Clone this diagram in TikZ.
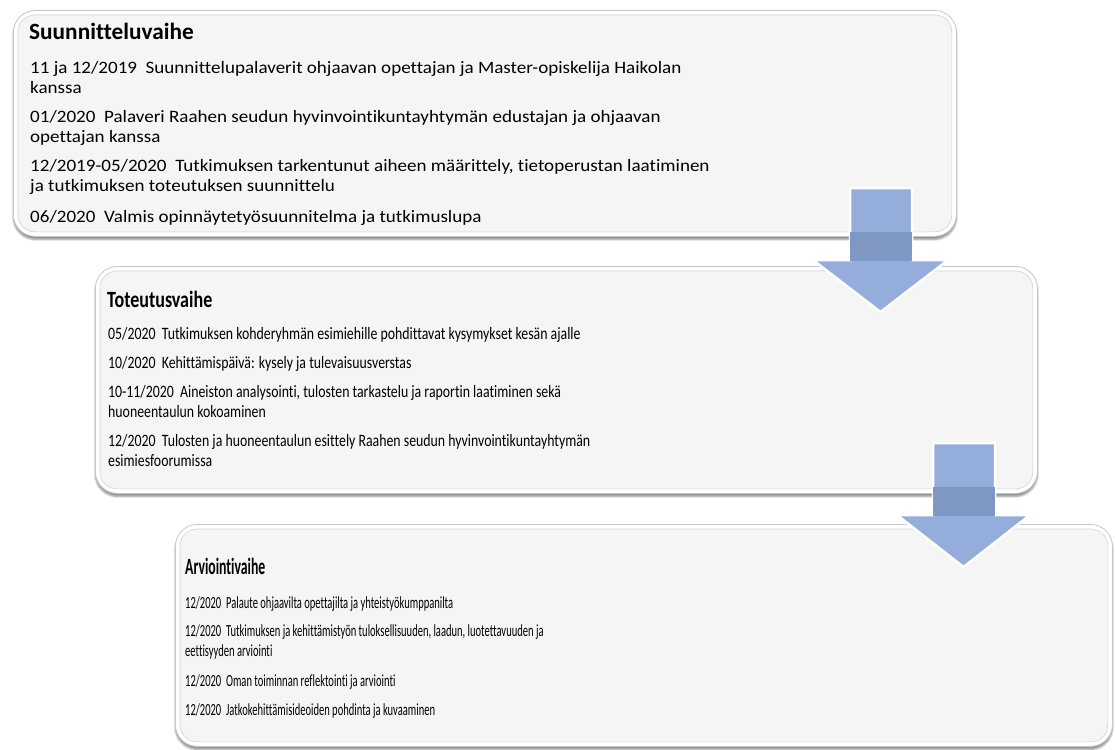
\documentclass[tikz,border=0pt]{standalone}
\usepackage{fontspec}
\setmainfont[Ligatures=NoCommon]{Carlito}
\newfontfamily\bodyA[FakeStretch=1.095, Ligatures=NoCommon]{Carlito}
\newfontfamily\bodyB[FakeStretch=0.795, Ligatures=NoCommon]{Carlito}
\newfontfamily\bodyC[FakeStretch=0.62, Ligatures=NoCommon]{Carlito}
\newfontfamily\headA[FakeStretch=1.0, Ligatures=NoCommon]{Carlito}
\newfontfamily\headB[FakeStretch=0.774, Ligatures=NoCommon]{Carlito}
\newfontfamily\headC[FakeStretch=0.59, Ligatures=NoCommon]{Carlito}
\usetikzlibrary{shadows.blur}
\definecolor{boxfill}{HTML}{F5F5F5}
\definecolor{boxline}{HTML}{C4C8CE}
\definecolor{arrowblue}{HTML}{94ADDA}
\definecolor{arrowdark}{HTML}{7F97C3}
\tikzset{
  outerbox/.style={draw=boxline, line width=0.8pt, fill=white, rounded corners=22pt,
    inner sep=0pt, anchor=north west,
    blur shadow={shadow xshift=0pt, shadow yshift=-3pt, shadow blur steps=6, shadow opacity=45}},
  innerbox/.style={draw=boxline!80, line width=0.6pt, fill=boxfill, rounded corners=17pt},
  titletext/.style={anchor=base west, inner sep=0pt, font=\bfseries\fontsize{23.3}{27}\selectfont},
  bodytext/.style={anchor=base west, inner sep=0pt},
  blockarrow/.style={draw=white, line width=2.5pt, fill=arrowblue, line join=miter},
  arrowband/.style={fill=arrowdark}
}
\begin{document}
\begin{tikzpicture}[x=1pt, y=-1pt]
\useasboundingbox (0,0) rectangle (1115,749);

% boxes
\node[outerbox, minimum width=943pt, minimum height=226pt] (b1) at (13,10) {};
\draw[innerbox] ([shift={(5,5)}]b1.north west) rectangle ([shift={(-5,-5)}]b1.south east);

\node[outerbox, minimum width=942pt, minimum height=227pt] (b2) at (95,266) {};
\draw[innerbox] ([shift={(5,5)}]b2.north west) rectangle ([shift={(-5,-5)}]b2.south east);

\node[outerbox, minimum width=937pt, minimum height=222pt] (b3) at (175,524) {};
\draw[innerbox] ([shift={(5,5)}]b3.north west) rectangle ([shift={(-5,-5)}]b3.south east);

% arrows
\draw[blockarrow] (850,188) -- (912,188) -- (912,260) -- (948,260) -- (880.5,312) -- (813,260) -- (850,260) -- cycle;
\fill[arrowband] (850,232) rectangle (912,261);
\draw[blockarrow] (933,443) -- (995,443) -- (995,515) -- (1030,515) -- (963.5,567) -- (897,515) -- (933,515) -- cycle;
\fill[arrowband] (933,487) rectangle (995,516);

% texts box 1
\node[titletext] (t1) at (29,40) {\headA Suunnitteluvaihe};
\node[bodytext] (x1) at (30,74) {\parbox[t]{800pt}{\bodyA\fontsize{17.4}{19.5}\selectfont
11 ja 12/2019\ \ Suunnittelupalaverit ohjaavan opettajan ja Master-opiskelija Haikolan\\
kanssa\\[10pt]
01/2020\ \ Palaveri Raahen seudun hyvinvointikuntayhtymän edustajan ja ohjaavan\\
opettajan kanssa\\[10pt]
12/2019-05/2020\ \ Tutkimuksen tarkentunut aiheen määrittely, tietoperustan laatiminen\\
ja tutkimuksen toteutuksen suunnittelu\\[11.5pt]
06/2020\ \ Valmis opinnäytetyösuunnitelma ja tutkimuslupa}};

% texts box 2
\node[titletext] (t2) at (107,307) {\headB Toteutusvaihe};
\node[bodytext] (x2) at (108,339) {\parbox[t]{800pt}{\bodyB\fontsize{17.4}{20}\selectfont
05/2020\ \ Tutkimuksen kohderyhmän esimiehille pohdittavat kysymykset kesän ajalle\\[9pt]
10/2020\ \ Kehittämispäivä: kysely ja tulevaisuusverstas\\[9pt]
10-11/2020\ \ Aineiston analysointi, tulosten tarkastelu ja raportin laatiminen sekä\\
huoneentaulun kokoaminen\\[9pt]
12/2020\ \ Tulosten ja huoneentaulun esittely Raahen seudun hyvinvointikuntayhtymän\\
esimiesfoorumissa}};

% texts box 3
\node[titletext] (t3) at (185,574) {\headC Arviointivaihe};
\node[bodytext] (x3) at (185,608.5) {\parbox[t]{800pt}{\bodyC\fontsize{17}{20}\selectfont
12/2020\ \ Palaute ohjaavilta opettajilta ja yhteistyökumppanilta\\[8pt]
12/2020\ \ Tutkimuksen ja kehittämistyön tuloksellisuuden, laadun, luotettavuuden ja\\
eettisyyden arviointi\\[10pt]
12/2020\ \ Oman toiminnan reflektointi ja arviointi\\[9pt]
12/2020\ \ Jatkokehittämisideoiden pohdinta ja kuvaaminen}};
\end{tikzpicture}
\end{document}
